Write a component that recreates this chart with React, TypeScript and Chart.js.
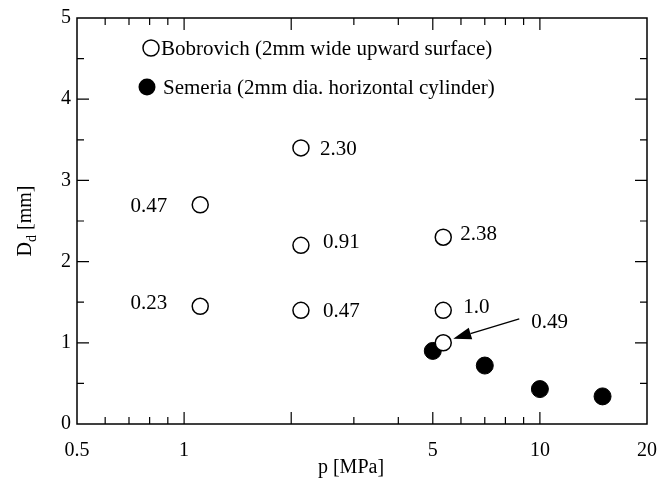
import React, { useEffect, useRef } from "react";
import { Chart, registerables } from "chart.js";

Chart.register(...registerables);

// ---- data ----
const bobrovichP = [1.11, 1.11, 2.13, 2.13, 2.13, 5.35, 5.35, 5.35];
const bobrovichD = [2.7, 1.45, 3.4, 2.2, 1.4, 2.3, 1.4, 1.0];
const bobrovichNotes = ["0.47", "0.23", "2.30", "0.91", "0.47", "2.38", "1.0", "0.49"];
const semeriaP = [5.0, 7.0, 10.0, 15.0];
const semeriaD = [0.9, 0.72, 0.43, 0.34];

const xTickValues = [0.5, 0.6, 0.7, 0.8, 0.9, 1, 2, 3, 4, 5, 6, 7, 8, 9, 10, 20];
const xLabelValues = [0.5, 1, 5, 10, 20];
const xMajorTicks = [1, 2, 5, 10];
const xMinorTicks = [0.6, 0.7, 0.8, 0.9, 3, 4, 6, 7, 8, 9];
const yMajorTicks = [1, 2, 3, 4];
const yMinorTicks = [0.5, 1.5, 2.5, 3.5, 4.5];

const legendLabels = [
  "Bobrovich (2mm wide upward surface)",
  "Semeria (2mm dia. horizontal cylinder)",
];
const xTitle = "p [MPa]";
const yTitleMain = "D";
const yTitleSub = "d";
const yTitleRest = " [mm]";

// ---- annotation layout (pixel offsets from each Bobrovich point) ----
type NoteLayout = {
  dx: number;
  dy: number;
  align: CanvasTextAlign;
  arrow?: { tail: [number, number]; tip: [number, number] };
};
const noteLayout: NoteLayout[] = [
  { dx: -33, dy: 0, align: "right" },
  { dx: -33, dy: -4, align: "right" },
  { dx: 19, dy: 0, align: "left" },
  { dx: 22, dy: -4, align: "left" },
  { dx: 22, dy: 0, align: "left" },
  { dx: 17, dy: -4, align: "left" },
  { dx: 20, dy: -4, align: "left" },
  { dx: 88, dy: -22, align: "left", arrow: { tail: [76, -24], tip: [10, -4] } },
];

const FONT_FAMILY = '"Liberation Serif", "Times New Roman", serif';
const font = (size: number) => `${size}px ${FONT_FAMILY}`;

const decorPlugin = {
  id: "decor",
  afterDraw(chart: any) {
    const ctx: CanvasRenderingContext2D = chart.ctx;
    const { left, right, top, bottom } = chart.chartArea;
    const xs = chart.scales.x;
    const ys = chart.scales.y;
    ctx.save();
    ctx.strokeStyle = "#000";
    ctx.fillStyle = "#000";

    // frame
    ctx.lineWidth = 1.5;
    ctx.strokeRect(left, top, right - left, bottom - top);

    // inward ticks
    ctx.lineWidth = 1.2;
    ctx.beginPath();
    const xTick = (v: number, len: number) => {
      const px = xs.getPixelForValue(v);
      ctx.moveTo(px, bottom);
      ctx.lineTo(px, bottom - len);
      ctx.moveTo(px, top);
      ctx.lineTo(px, top + len);
    };
    const yTick = (v: number, len: number) => {
      const py = ys.getPixelForValue(v);
      ctx.moveTo(left, py);
      ctx.lineTo(left + len, py);
      ctx.moveTo(right, py);
      ctx.lineTo(right - len, py);
    };
    xMajorTicks.forEach((v) => xTick(v, 12));
    xMinorTicks.forEach((v) => xTick(v, 7));
    yMajorTicks.forEach((v) => yTick(v, 12));
    yMinorTicks.forEach((v) => yTick(v, 7));
    ctx.stroke();

    // point notes
    ctx.font = font(21);
    ctx.textBaseline = "alphabetic";
    bobrovichNotes.forEach((txt, i) => {
      const lay = noteLayout[i];
      const px = xs.getPixelForValue(bobrovichP[i]);
      const py = ys.getPixelForValue(bobrovichD[i]);
      ctx.textAlign = lay.align;
      ctx.fillText(txt, px + lay.dx, py + lay.dy + 7);
      if (lay.arrow) {
        const tx = px + lay.arrow.tail[0];
        const ty = py + lay.arrow.tail[1];
        const hx = px + lay.arrow.tip[0];
        const hy = py + lay.arrow.tip[1];
        const ang = Math.atan2(hy - ty, hx - tx);
        const headLen = 18;
        const headW = 6;
        const bx = hx - headLen * Math.cos(ang);
        const by = hy - headLen * Math.sin(ang);
        ctx.lineWidth = 1.4;
        ctx.beginPath();
        ctx.moveTo(tx, ty);
        ctx.lineTo(bx, by);
        ctx.stroke();
        ctx.beginPath();
        ctx.moveTo(hx, hy);
        ctx.lineTo(bx + headW * Math.sin(ang), by - headW * Math.cos(ang));
        ctx.lineTo(bx - headW * Math.sin(ang), by + headW * Math.cos(ang));
        ctx.closePath();
        ctx.fill();
      }
    });

    // legend
    const lx = left + 73;
    const ly1 = top + 30;
    const ly2 = top + 69;
    ctx.lineWidth = 1.5;
    ctx.beginPath();
    ctx.arc(lx + 1, ly1, 8, 0, Math.PI * 2);
    ctx.fillStyle = "#fff";
    ctx.fill();
    ctx.stroke();
    ctx.fillStyle = "#000";
    ctx.beginPath();
    ctx.arc(lx - 3, ly2, 8.5, 0, Math.PI * 2);
    ctx.fill();
    ctx.textAlign = "left";
    ctx.font = font(21);
    ctx.fillText(legendLabels[0], lx + 11, ly1 + 7);
    ctx.fillText(legendLabels[1], lx + 13, ly2 + 7);

    // x title
    ctx.font = font(20);
    ctx.textAlign = "center";
    ctx.fillText(xTitle, (left + right) / 2 - 11, 473);

    // y title (rotated, with subscript)
    ctx.font = font(20);
    const mainW = ctx.measureText(yTitleMain).width;
    const restW = ctx.measureText(yTitleRest).width;
    ctx.font = font(14);
    const subW = ctx.measureText(yTitleSub).width;
    const total = mainW + subW + restW;
    ctx.translate(31, (top + bottom) / 2);
    ctx.rotate(-Math.PI / 2);
    ctx.textAlign = "left";
    let cx = -total / 2;
    ctx.font = font(20);
    ctx.fillText(yTitleMain, cx, 0);
    cx += mainW;
    ctx.font = font(14);
    ctx.fillText(yTitleSub, cx, 5);
    cx += subW;
    ctx.font = font(20);
    ctx.fillText(yTitleRest, cx, 0);

    ctx.restore();
  },
};

export default function App() {
  const ref = useRef<HTMLCanvasElement>(null);

  useEffect(() => {
    const canvas = ref.current;
    if (!canvas) return;
    const chart = new Chart(canvas, {
      type: "scatter",
      data: {
        datasets: [
          {
            label: legendLabels[0],
            data: bobrovichP.map((p, i) => ({ x: p, y: bobrovichD[i] })),
            pointStyle: "circle",
            pointRadius: 8,
            pointBackgroundColor: "#fff",
            pointBorderColor: "#000",
            pointBorderWidth: 1.5,
            showLine: false,
          },
          {
            label: legendLabels[1],
            data: semeriaP.map((p, i) => ({ x: p, y: semeriaD[i] })),
            pointStyle: "circle",
            pointRadius: 8.5,
            pointBackgroundColor: "#000",
            pointBorderColor: "#000",
            pointBorderWidth: 1,
            showLine: false,
          },
        ],
      },
      options: {
        responsive: false,
        animation: false,
        events: [],
        layout: { padding: { left: 0, right: 13, top: 18, bottom: 0 } },
        plugins: {
          legend: { display: false },
          tooltip: { enabled: false },
          title: { display: false },
        },
        scales: {
          x: {
            type: "logarithmic",
            min: 0.5,
            max: 20,
            grid: { display: false, drawTicks: false },
            border: { display: false },
            afterBuildTicks: (scale: any) => {
              scale.ticks = xTickValues.map((v) => ({ value: v }));
            },
            afterFit: (scale: any) => {
              scale.height = 57;
              scale.paddingLeft = 0;
              scale.paddingRight = 0;
            },
            ticks: {
              autoSkip: false,
              maxRotation: 0,
              minRotation: 0,
              padding: 15,
              color: "#000",
              font: { family: FONT_FAMILY, size: 20 },
              callback: (value: any) =>
                xLabelValues.includes(Number(value)) ? String(value) : "",
            },
          },
          y: {
            type: "linear",
            min: 0,
            max: 5,
            grid: { display: false, drawTicks: false },
            border: { display: false },
            afterFit: (scale: any) => {
              scale.width = 77;
              scale.paddingTop = 0;
              scale.paddingBottom = 0;
            },
            ticks: {
              stepSize: 1,
              padding: 6,
              color: "#000",
              font: { family: FONT_FAMILY, size: 20 },
            },
          },
        },
      },
      plugins: [decorPlugin],
    });
    return () => chart.destroy();
  }, []);

  return (
    <div
      style={{
        position: "fixed",
        left: 0,
        top: 0,
        width: 660,
        height: 481,
        background: "#fff",
      }}
    >
      <canvas ref={ref} width={660} height={481} style={{ display: "block" }} />
    </div>
  );
}
